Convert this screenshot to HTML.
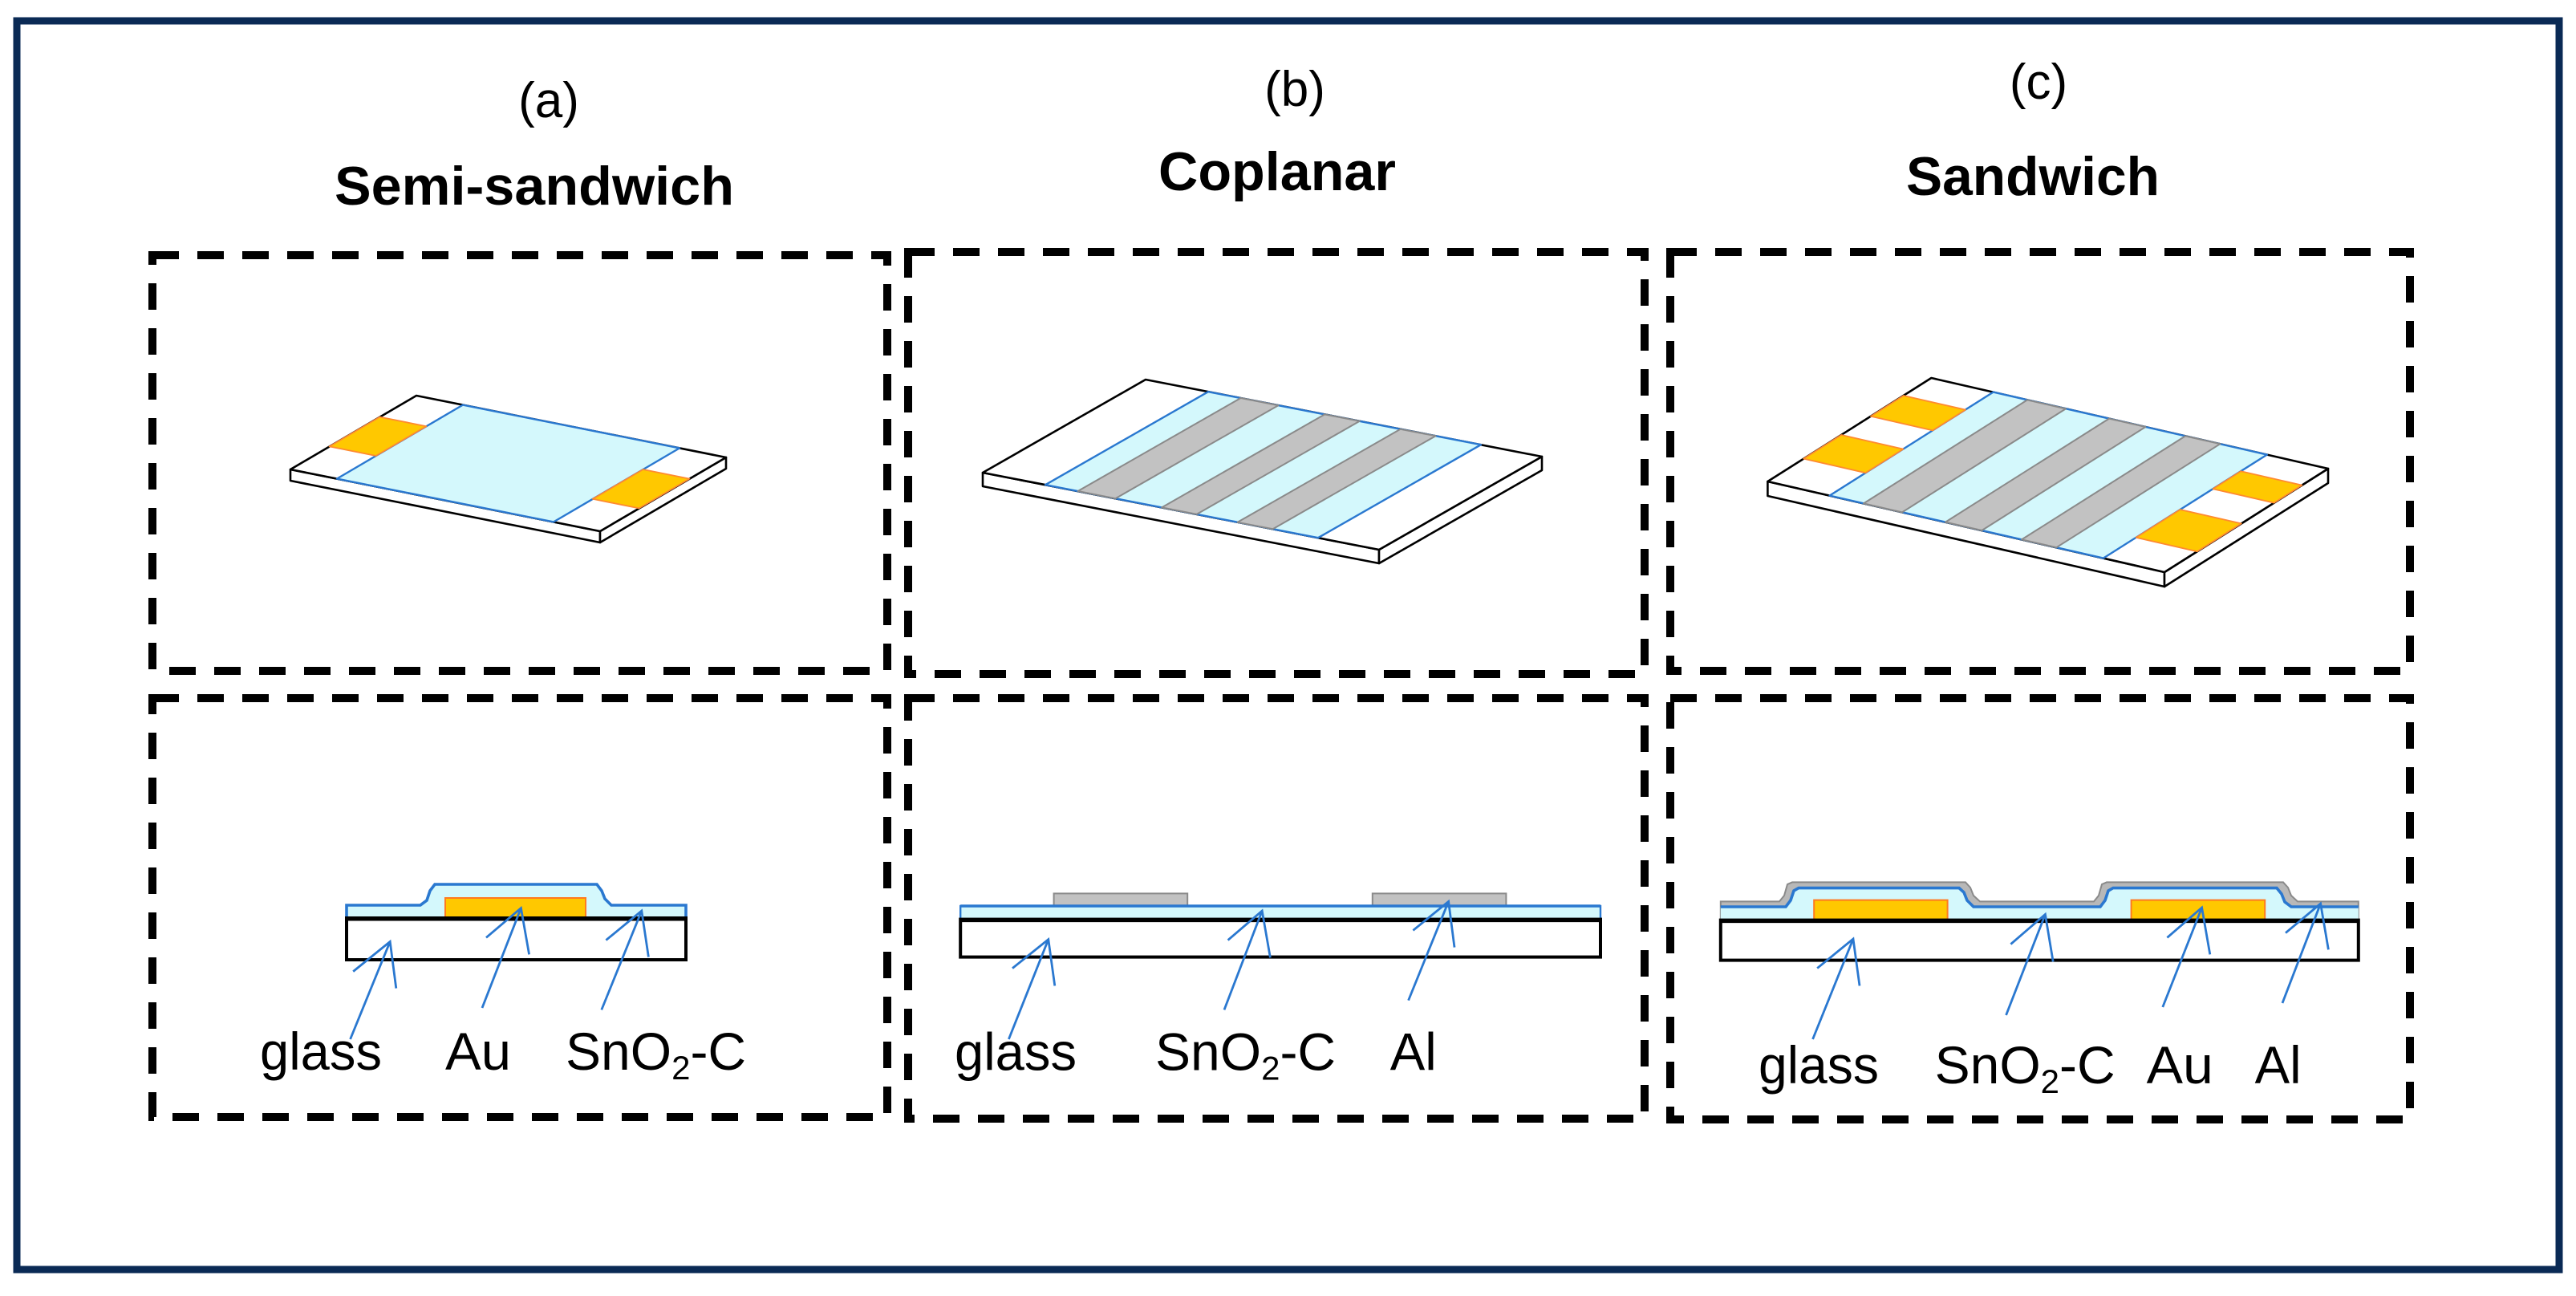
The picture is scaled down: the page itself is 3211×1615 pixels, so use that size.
<!DOCTYPE html>
<html><head><meta charset="utf-8"><style>
html,body{margin:0;padding:0;background:#fff;}
svg{display:block;}
text{font-family:"Liberation Sans",sans-serif;fill:#000;}
</style></head><body>
<svg width="3211" height="1615" viewBox="0 0 1605.5 807.5" xmlns="http://www.w3.org/2000/svg">
<rect x="0" y="0" width="1605.5" height="807.5" fill="#fff"/>
<rect x="10.5" y="13" width="1584.5" height="778" fill="none" stroke="#0a2a55" stroke-width="4.5"/>

<!-- titles -->
<text x="342" y="73" font-size="31" text-anchor="middle">(a)</text>
<text x="333" y="127.5" font-size="34" font-weight="bold" text-anchor="middle" textLength="249" lengthAdjust="spacingAndGlyphs">Semi-sandwich</text>
<text x="807" y="66" font-size="31" text-anchor="middle">(b)</text>
<text x="796" y="118.5" font-size="34" font-weight="bold" text-anchor="middle" textLength="148" lengthAdjust="spacingAndGlyphs">Coplanar</text>
<text x="1270.5" y="61.5" font-size="31" text-anchor="middle">(c)</text>
<text x="1267" y="121.5" font-size="34" font-weight="bold" text-anchor="middle" textLength="158" lengthAdjust="spacingAndGlyphs">Sandwich</text>

<!-- dashed boxes -->
<g fill="none" stroke="#000" stroke-width="5" stroke-dasharray="16.5 11.5">
<rect x="95" y="159" width="458" height="259"/>
<rect x="566" y="157" width="459" height="263"/>
<rect x="1041" y="157" width="461" height="261"/>
<rect x="95" y="435" width="458" height="261"/>
<rect x="566" y="435" width="459" height="262"/>
<rect x="1041" y="435" width="461" height="262.5"/>
</g>

<!-- chip a -->
<g stroke-linejoin="round">
<polygon points="181,292.5 374,331 374,338 181,299.5" fill="#fff" stroke="#000" stroke-width="1.3"/>
<polygon points="374,331 452.5,285 452.5,292 374,338" fill="#fff" stroke="#000" stroke-width="1.3"/>
<polygon points="181,292.5 259.5,246.5 452.5,285 374,331" fill="#fff" stroke="#000" stroke-width="1.3"/>
<polygon points="209.95,298.3 345.05,325.2 423.55,279.2 288.45,252.3" fill="#d4f8fc" stroke="#2a78d0" stroke-width="1.2"/>
<polygon points="205.3,278.2 234.3,284 265.7,265.6 236.7,259.8" fill="#ffc800" stroke="#ff8a30" stroke-width="0.9"/>
<polygon points="369.4,310.9 398.3,316.7 429.7,298.3 400.8,292.5" fill="#ffc800" stroke="#ff8a30" stroke-width="0.9"/>
</g>

<!-- chip b -->
<g stroke-linejoin="round">
<polygon points="612.5,294.5 859.5,342.5 859.5,351 612.5,303" fill="#fff" stroke="#000" stroke-width="1.3"/>
<polygon points="859.5,342.5 961,284.5 961,293 859.5,351" fill="#fff" stroke="#000" stroke-width="1.3"/>
<polygon points="612.5,294.5 714,236.5 961,284.5 859.5,342.5" fill="#fff" stroke="#000" stroke-width="1.3"/>
<polygon points="651.5,302.1 821.5,335.1 923,277.1 753,244.1" fill="#d4f8fc" stroke="#2a78d0" stroke-width="1.2"/>
<g fill="#c2c2c2" stroke="#8a8a8a" stroke-width="1">
<polygon points="671.8,306 695.2,310.6 796.7,252.6 773.3,248"/>
<polygon points="724.1,316.2 745.9,320.4 847.4,262.4 825.6,258.2"/>
<polygon points="771.3,325.4 793.3,329.6 894.8,271.6 872.8,267.4"/>
</g>
</g>

<!-- chip c -->
<g stroke-linejoin="round">
<polygon points="1101.7,300 1349,356.5 1349,365.5 1101.7,309" fill="#fff" stroke="#000" stroke-width="1.3"/>
<polygon points="1349,356.5 1451,292 1451,301 1349,365.5" fill="#fff" stroke="#000" stroke-width="1.3"/>
<polygon points="1101.7,300 1203.7,235.5 1451,292 1349,356.5" fill="#fff" stroke="#000" stroke-width="1.3"/>
<polygon points="1140.3,308.8 1310.9,347.8 1412.9,283.3 1242.3,244.3" fill="#d4f8fc" stroke="#2a78d0" stroke-width="1.2"/>
<g fill="#c2c2c2" stroke="#8a8a8a" stroke-width="1">
<polygon points="1161.5,313.7 1185.5,319.2 1287.5,254.7 1263.5,249.2"/>
<polygon points="1212.5,325.3 1235.2,330.5 1337.2,266 1314.5,260.8"/>
<polygon points="1260,336.2 1281.7,341.1 1383.7,276.6 1362,271.7"/>
</g>
<g fill="#ffc800" stroke="#ff8a30" stroke-width="0.9">
<polygon points="1124.1,285.8 1162.7,294.6 1186.2,279.8 1147.6,271"/>
<polygon points="1166,259.4 1204.6,268.2 1225,255.3 1186.4,246.5"/>
<polygon points="1331.3,334.9 1369.4,343.6 1396.9,326.2 1358.8,317.5"/>
<polygon points="1379.2,304.6 1417.3,313.3 1434.7,302.3 1396.6,293.6"/>
</g>
</g>

<!-- cross-section a -->
<polygon points="216,573 216,564 262,564 266,561 268,555 271,551 372,551 375,555 377,560 381,564 427.5,564 427.5,573" fill="#d4f8fc"/>
<polyline points="216,573 216,564 262,564 266,561 268,555 271,551 372,551 375,555 377,560 381,564 427.5,564 427.5,573" fill="none" stroke="#2a78d0" stroke-width="1.8"/>
<rect x="277.5" y="559.5" width="87.5" height="13" fill="#ffc800" stroke="#ff7a20" stroke-width="1"/>
<rect x="216" y="572" width="211.5" height="26" fill="#fff" stroke="#000" stroke-width="2"/>
<line x1="216" y1="572.5" x2="427.5" y2="572.5" stroke="#000" stroke-width="2.5"/>
<g stroke="#2a78d0" stroke-width="1.4" fill="none">
<polyline points="218.3,647.5 243.1,586.7"/><polyline points="220.1,605.3 243.1,586.7 246.9,615.8"/>
<polyline points="300.5,628 324.7,565.8"/><polyline points="303,584.2 324.7,565.8 329.8,594.7"/>
<polyline points="374.9,629.2 399.9,567.5"/><polyline points="377.7,585.8 399.9,567.5 404.2,596.3"/>
</g>
<text x="162" y="666.5" font-size="33" textLength="76" lengthAdjust="spacingAndGlyphs">glass</text>
<text x="277.5" y="666.5" font-size="33" textLength="41" lengthAdjust="spacingAndGlyphs">Au</text>
<text x="352.5" y="666.5" font-size="33">SnO<tspan font-size="21" dy="6">2</tspan><tspan dy="-6">-C</tspan></text>

<!-- cross-section b -->
<rect x="656.8" y="556.7" width="83.3" height="8" fill="#c2c2c2" stroke="#8a8a8a" stroke-width="1"/>
<rect x="855.4" y="556.7" width="83.3" height="8" fill="#c2c2c2" stroke="#8a8a8a" stroke-width="1"/>
<rect x="598.6" y="564.5" width="398.9" height="8.3" fill="#d4f8fc" stroke="#2a78d0" stroke-width="1.2"/>
<line x1="598.6" y1="564.5" x2="997.5" y2="564.5" stroke="#2a78d0" stroke-width="1.8"/>
<rect x="598.6" y="572.8" width="398.9" height="23.5" fill="#fff" stroke="#000" stroke-width="2"/>
<line x1="598.6" y1="573.3" x2="997.5" y2="573.3" stroke="#000" stroke-width="2.5"/>
<g stroke="#2a78d0" stroke-width="1.4" fill="none">
<polyline points="628.7,647.5 653.4,585.3"/><polyline points="631,603.3 653.4,585.3 657.4,614.2"/>
<polyline points="763,629.2 786.6,567.5"/><polyline points="765.3,585.8 786.6,567.5 791.7,596.7"/>
<polyline points="877.8,623.3 902.8,561.7"/><polyline points="880.7,579.7 902.8,561.7 906.5,590.3"/>
</g>
<text x="595" y="666.7" font-size="33" textLength="76" lengthAdjust="spacingAndGlyphs">glass</text>
<text x="720" y="666.7" font-size="33">SnO<tspan font-size="21" dy="6">2</tspan><tspan dy="-6">-C</tspan></text>
<text x="866.4" y="666.7" font-size="33" textLength="29" lengthAdjust="spacingAndGlyphs">Al</text>

<!-- cross-section c -->
<polygon points="1072.4,573.3 1072.4,561.7 1109,561.7 1112,558 1114,551 1117,549.7 1225,549.7 1228,553 1230,558 1234,561.7 1305,561.7 1308,558 1310,551 1313,549.7 1423,549.7 1426,553 1428,558 1432,561.7 1469.9,561.7 1469.9,573.3" fill="#b8b8b8" stroke="#8a8a8a" stroke-width="1"/>
<polygon points="1072.4,573.3 1072.4,565 1113,565 1116,561 1118,555 1121,553.3 1221,553.3 1224,556 1226,561 1230,565 1309,565 1312,561 1314,555 1317,553.3 1419,553.3 1422,557 1424,562 1428,565 1469.9,565 1469.9,573.3" fill="#d4f8fc"/>
<polyline points="1072.4,565 1113,565 1116,561 1118,555 1121,553.3 1221,553.3 1224,556 1226,561 1230,565 1309,565 1312,561 1314,555 1317,553.3 1419,553.3 1422,557 1424,562 1428,565 1469.9,565" fill="none" stroke="#2a78d0" stroke-width="1.8"/>
<rect x="1130.6" y="560.8" width="83.2" height="12.5" fill="#ffc800" stroke="#ff7a20" stroke-width="1"/>
<rect x="1328.3" y="560.8" width="83.3" height="12.5" fill="#ffc800" stroke="#ff7a20" stroke-width="1"/>
<rect x="1072.4" y="573.3" width="397.5" height="25" fill="#fff" stroke="#000" stroke-width="2"/>
<line x1="1072.4" y1="573.8" x2="1469.9" y2="573.8" stroke="#000" stroke-width="2.5"/>
<g stroke="#2a78d0" stroke-width="1.4" fill="none">
<polyline points="1129.8,647.5 1155,585"/><polyline points="1132.6,603.3 1155,585 1159,614.2"/>
<polyline points="1250.3,632.5 1274.7,569.7"/><polyline points="1253.2,588.3 1274.7,569.7 1279.6,599.2"/>
<polyline points="1347.9,627.5 1372.3,565.5"/><polyline points="1350.7,584.2 1372.3,565.5 1377.4,594.7"/>
<polyline points="1422.5,625 1446.3,563"/><polyline points="1424.5,581.3 1446.3,563 1451.2,591.7"/>
</g>
<text x="1096" y="675" font-size="33" textLength="75" lengthAdjust="spacingAndGlyphs">glass</text>
<text x="1205.8" y="675" font-size="33">SnO<tspan font-size="21" dy="6">2</tspan><tspan dy="-6">-C</tspan></text>
<text x="1337.8" y="675" font-size="33" textLength="41.6" lengthAdjust="spacingAndGlyphs">Au</text>
<text x="1405.3" y="675" font-size="33" textLength="29" lengthAdjust="spacingAndGlyphs">Al</text>
</svg>
</body></html>
